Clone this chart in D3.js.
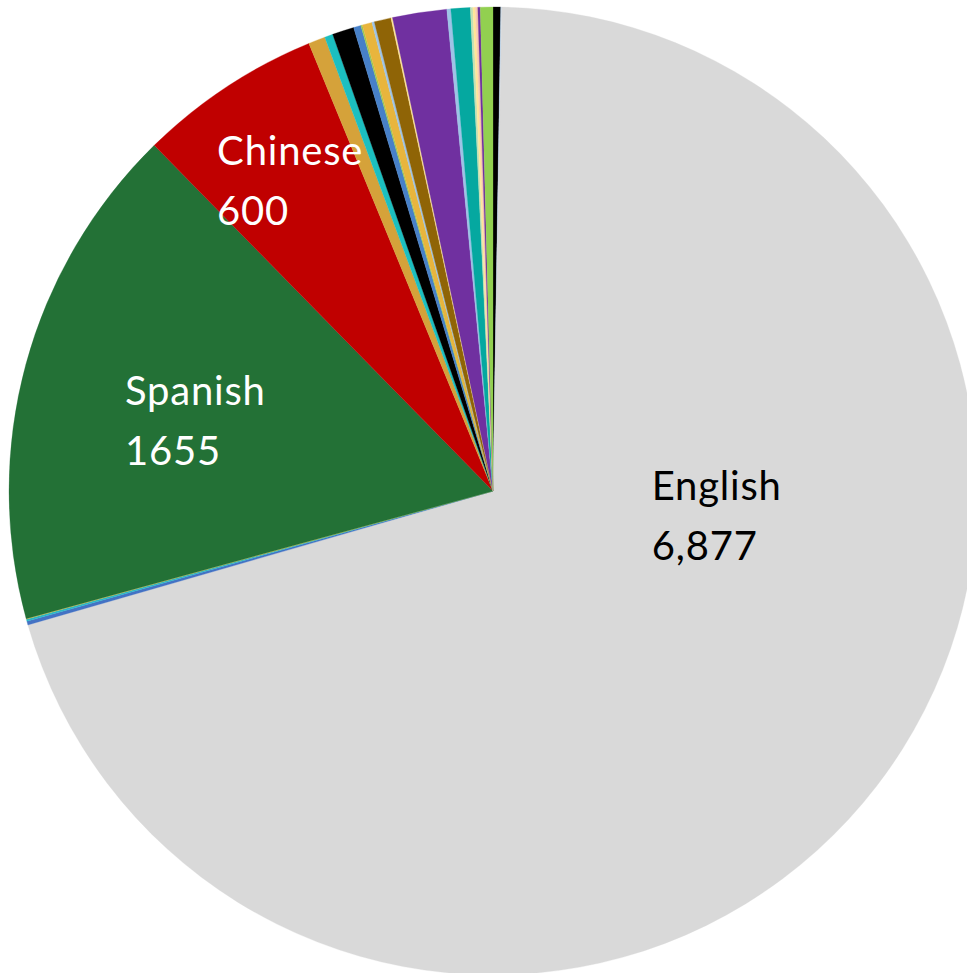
<!DOCTYPE html>
<html>
<head>
<meta charset="utf-8">
<script src="https://cdn.jsdelivr.net/npm/d3@7"></script>
<style>
  body { margin: 0; background: #fff; }
  svg { display: block; }
  .label { font-family: Lato, "Open Sans", sans-serif; font-size: 40px; letter-spacing: 0.8px; }
</style>
</head>
<body>
<script>
var width = 967,
    height = 973;

// slices in clockwise order starting from 12 o'clock
var languages = ["Other 1", "Other 2", "English", "Other 3", "Other 4", "Other 5",
    "Spanish", "Chinese", "Other 6", "Other 7", "Other 8", "Other 9", "Other 10",
    "Other 11", "Other 12", "Other 13", "Other 14", "Other 15", "Other 16",
    "Other 17", "Other 18", "Other 19", "Other 20", "Other 21", "Other 22"];
var speakers = [25, 3, 6877, 12, 7, 2,
    1655, 600, 55, 27, 71, 24, 5,
    32, 8, 55, 5, 177, 13,
    63, 8, 8, 8, 8, 41];
var colors = ["#000000", "#bdd7ee", "#d9d9d9", "#4472c4", "#2ab7c7", "#e2c03e",
    "#237136", "#c00000", "#d5a23a", "#1cbfc0", "#000000", "#4780c8", "#9bc850",
    "#e8b53d", "#9dc3e6", "#8f6406", "#ffe699", "#7030a0", "#9dc3e6",
    "#05a8a0", "#c5e0b4", "#ffe699", "#f8cbad", "#7030a0", "#92d050"];
// which slices carry a label, and the text shown
var labelNames = ["English", "Spanish", "Chinese"];
var labelValues = ["6,877", "1655", "600"];

var cx = 493, cy = 491, radius = 484;

// label anchor (left end of first baseline) in polar form around the centre
var labelSpots = {
    "English": { angle: 93.2, r: 159, fill: "#000" },
    "Spanish": { angle: 283.15, r: 378, fill: "#fff" },
    "Chinese": { angle: 319.75, r: 427, fill: "#fff" }
};

var svg = d3.select("body").append("svg")
    .attr("width", width)
    .attr("height", height);

var data = languages.map(function(d, i) {
    return { name: d, value: speakers[i], color: colors[i] };
});

var pie = d3.pie()
    .sort(null)
    .value(function(d) { return d.value; });

var arc = d3.arc()
    .innerRadius(0)
    .outerRadius(radius);

var g = svg.append("g")
    .attr("transform", "translate(" + cx + "," + cy + ")");

g.selectAll("path")
    .data(pie(data))
    .enter().append("path")
    .attr("d", arc)
    .attr("fill", function(d) { return d.data.color; })
    .attr("stroke", function(d) { return d.data.color; })
    .attr("stroke-width", 0.3);

labelNames.forEach(function(name, i) {
    var s = labelSpots[name];
    var a = s.angle * Math.PI / 180;
    var x = s.r * Math.sin(a),
        y = -s.r * Math.cos(a);
    var t = g.append("text")
        .attr("class", "label")
        .attr("fill", s.fill)
        .attr("x", x)
        .attr("y", y);
    t.append("tspan").attr("x", x).attr("y", y).text(name);
    t.append("tspan").attr("x", x).attr("y", y + 60).text(labelValues[i]);
});
</script>
</body>
</html>
